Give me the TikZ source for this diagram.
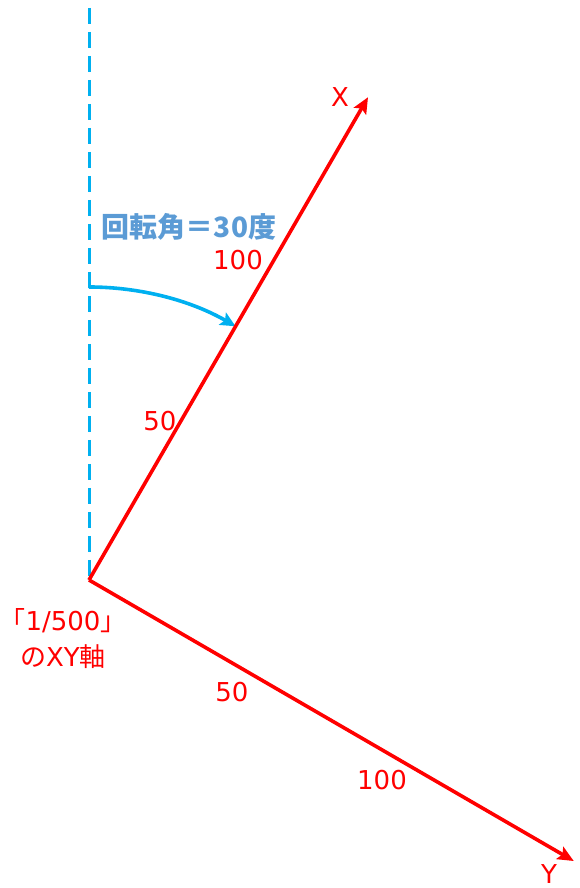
\documentclass[tikz,border=0pt]{standalone}
\usepackage{fontspec}
\setmainfont{DejaVu Sans}
\newfontfamily\jp{Noto Sans CJK JP}
\usetikzlibrary{arrows.meta}
\definecolor{axisred}{HTML}{FF0000}
\definecolor{guideblue}{HTML}{00B0F0}
\definecolor{anglelabel}{HTML}{5B9BD5}

\begin{document}
\begin{tikzpicture}[
    x=1pt, y=1pt,
    every node/.style={align=center, font=\fontsize{26}{36}\selectfont},
    axis/.style={-{Stealth[length=16pt, width=14pt, inset=3pt]}, draw=axisred, line width=3.6pt},
    guide/.style={draw=guideblue, line width=3pt, dash pattern=on 16pt off 8pt},
    turn/.style={-{Stealth[length=15pt, width=14pt, inset=3pt]}, draw=guideblue, line width=3.6pt},
    tick/.style={text=axisred}
]
\useasboundingbox (0,0) rectangle (580,888);

% origin and axis ends
\coordinate (origin) at (89,308);
\coordinate (top) at (89,880);
\coordinate (xend) at (367,789);
\coordinate (yend) at (572,28);

% vertical reference line
\draw[guide] (top) -- (origin);

% rotation angle
\draw[turn] (89,601) arc[start angle=90, end angle=60, radius=293];
\node[text=anglelabel, font=\jp\bfseries\fontsize{28}{32}\selectfont] (angle) at (189,661) {回転角＝30度};

% X axis
\draw[axis, shorten >=-2pt] (origin) -- (xend);
\node[tick] (xlabel) at (340,791) {X};
\node[tick] (x100) at (238,628) {100};
\node[tick] (x50) at (160,467) {50};

% Y axis
\draw[axis, shorten >=-2pt] (origin) -- (yend);
\node[tick] (ylabel) at (549,14) {Y};
\node[tick] (y50) at (232,196) {50};
\node[tick] (y100) at (382,108) {100};

% axis name
\node[tick] (name) at (63,249) {{\jp 「}1/500{\jp 」}\\{\jp の}XY{\jp 軸}};

\end{tikzpicture}
\end{document}
